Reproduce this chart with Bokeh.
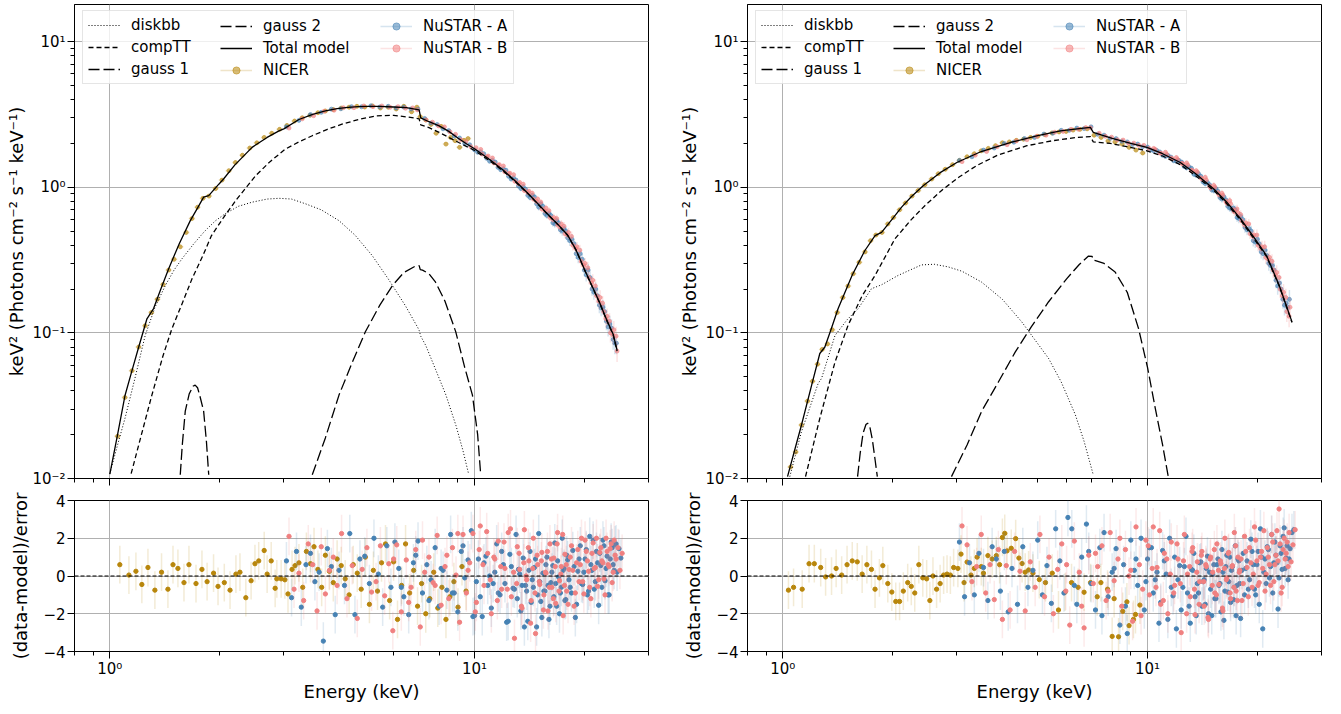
from bokeh.plotting import figure
from bokeh.layouts import row, column
from bokeh.models import FixedTicker, Span, Legend, LegendItem
from bokeh.embed import file_html
from bokeh.resources import INLINE

FONT = "DejaVu Sans"
NICER_COLOR = "#b8860b"
NUA_COLOR = "#4682b4"
NUB_COLOR = "#f08080"
GRID_COLOR = "#b0b0b0"

# ---- axes ticks
XMAJOR = [1, 10]
XMINOR = [0.8, 0.9, 2, 3, 4, 5, 6, 7, 8, 9, 20, 30]
XLABELS = {1: "10⁰", 10: "10¹"}
XBLANK = {1: "", 10: ""}
YMAJOR = [0.01, 0.1, 1, 10]
YMINOR = [0.02, 0.03, 0.04, 0.05, 0.06, 0.07, 0.08, 0.09,
          0.2, 0.3, 0.4, 0.5, 0.6, 0.7, 0.8, 0.9, 2, 3, 4, 5, 6, 7, 8, 9]
YLABELS = {0.01: "10⁻²", 0.1: "10⁻¹", 1: "10⁰", 10: "10¹"}
RMAJOR = [-4, -2, 0, 2, 4]
RLABELS = {-4: "−4", -2: "−2", 0: "0", 2: "2", 4: "4"}

# ---- left observation, model components (keV, keV^2 flux)
L_TOTAL_E = [1.0, 1.05, 1.1, 1.15, 1.2, 1.264, 1.318, 1.38, 1.449, 1.55, 1.662, 1.75, 1.808, 1.867, 1.99, 2.05, 2.2, 2.455,
             2.7, 2.91, 3.0, 3.3, 3.6, 3.9, 4.2, 4.5, 4.8, 5.1, 5.5, 6.0, 6.5, 7.05, 7.12, 7.5, 8.0, 8.5, 9.0, 9.5, 10.0,
             11.0, 12.0, 13.0, 14.0, 15.0, 16.0, 17.0, 18.0, 19.0, 20.0, 21.0, 22.0, 23.0, 24.0, 24.6]
L_TOTAL_F = [0.0107, 0.020, 0.037, 0.055, 0.080, 0.125, 0.147, 0.20, 0.275, 0.41, 0.59, 0.74, 0.855, 0.876, 1.05, 1.14, 1.42,
             1.88, 2.2, 2.44, 2.52, 2.92, 3.17, 3.35, 3.47, 3.54, 3.58, 3.60, 3.59, 3.56, 3.52, 3.40, 3.0, 2.82, 2.64, 2.42,
             2.18, 1.99, 1.84, 1.55, 1.31, 1.09, 0.91, 0.76, 0.64, 0.55, 0.47, 0.37, 0.275, 0.21, 0.163, 0.124, 0.098, 0.076]
L_COMPTT_E = [1.144, 1.2, 1.304, 1.4, 1.48, 1.58, 1.68, 1.8, 1.9, 2.05, 2.23, 2.51, 2.75, 3.03, 3.3, 3.59, 3.95, 4.33, 4.8,
              5.35, 6.0, 6.6, 7.05, 7.12, 7.5, 8.0, 9.05, 10.0, 11.0, 12.0, 13.0, 14.0, 15.0, 16.0, 17.0, 18.0, 19.0, 20.0,
              21.0, 22.0, 23.0, 24.0, 24.6]
L_COMPTT_F = [0.0108, 0.017, 0.0374, 0.07, 0.107, 0.16, 0.235, 0.34, 0.466, 0.62, 0.83, 1.2, 1.5, 1.83, 2.05, 2.26, 2.5,
              2.71, 2.92, 3.09, 3.12, 3.03, 2.95, 2.68, 2.57, 2.38, 2.03, 1.79, 1.52, 1.29, 1.08, 0.905, 0.755, 0.637,
              0.548, 0.468, 0.369, 0.273, 0.209, 0.162, 0.123, 0.097, 0.075]
L_DISKBB_E = [1.0, 1.05, 1.1, 1.17, 1.25, 1.33, 1.42, 1.5, 1.577, 1.7, 1.808, 1.85, 1.95, 2.07, 2.25, 2.455, 2.7, 2.91,
              3.15, 3.44, 3.8, 4.25, 4.7, 5.24, 5.8, 6.46, 7.0, 7.05, 7.12, 7.35, 7.8, 8.35, 8.9, 9.3, 9.63]
L_DISKBB_F = [0.0108, 0.017, 0.0258, 0.048, 0.096, 0.15, 0.212, 0.27, 0.323, 0.41, 0.49, 0.52, 0.59, 0.657, 0.74, 0.79,
              0.83, 0.84, 0.83, 0.77, 0.70, 0.59, 0.47, 0.34, 0.235, 0.154, 0.108, 0.104, 0.095, 0.082, 0.057, 0.0374,
              0.023, 0.0155, 0.0108]
L_GAUSS1_E = [1.56, 1.58, 1.61, 1.65, 1.69, 1.714, 1.74, 1.77, 1.808, 1.84, 1.867]
L_GAUSS1_F = [0.0106, 0.017, 0.029, 0.038, 0.043, 0.0438, 0.042, 0.036, 0.029, 0.018, 0.0106]
L_GAUSS2_E = [3.59, 3.9, 4.25, 4.6, 5.02, 5.5, 5.96, 6.4, 6.88, 7.05, 7.1, 7.2, 7.5, 7.82, 8.3, 8.88, 9.4, 9.87, 10.2, 10.4]
L_GAUSS2_F = [0.0106, 0.019, 0.0374, 0.061, 0.1018, 0.155, 0.212, 0.26, 0.287, 0.29, 0.272, 0.27, 0.255, 0.223, 0.165,
              0.102, 0.058, 0.0374, 0.02, 0.0106]

# ---- right observation, model components
R_TOTAL_E = [1.03, 1.08, 1.125, 1.2, 1.263, 1.304, 1.36, 1.418, 1.55, 1.679, 1.79, 1.865, 2.0, 2.117, 2.25, 2.43, 2.7, 3.0,
             3.5, 4.2, 5.0, 5.77, 6.5, 6.97, 7.1, 7.5, 8.0, 9.0, 9.96, 11.0, 12.3, 13.5, 15.2, 16.5, 18.0, 19.5, 21.2,
             23.0, 24.9]
R_TOTAL_F = [0.0103, 0.016, 0.0233, 0.044, 0.0722, 0.080, 0.108, 0.147, 0.25, 0.368, 0.466, 0.49, 0.61, 0.73, 0.86, 1.03,
             1.26, 1.48, 1.76, 2.03, 2.26, 2.44, 2.53, 2.58, 2.38, 2.28, 2.17, 2.0, 1.88, 1.7, 1.48, 1.25, 0.974, 0.79,
             0.607, 0.46, 0.34, 0.21, 0.119]
R_COMPTT_E = [1.154, 1.263, 1.39, 1.51, 1.65, 1.79, 2.03, 2.25, 2.455, 2.75, 3.05, 3.4, 3.9, 4.67, 5.5, 6.4, 6.97, 7.1,
              7.9, 8.8, 9.96, 11.0, 12.3, 13.5, 15.2, 16.5, 18.0, 19.5, 21.2, 23.0, 24.9]
R_COMPTT_F = [0.0103, 0.0259, 0.063, 0.113, 0.18, 0.248, 0.443, 0.6, 0.75, 0.97, 1.18, 1.41, 1.67, 1.93, 2.09, 2.2, 2.23,
              2.05, 2.0, 1.9, 1.78, 1.64, 1.43, 1.21, 0.95, 0.77, 0.595, 0.45, 0.335, 0.208, 0.118]
R_DISKBB_E = [1.045, 1.125, 1.25, 1.277, 1.39, 1.5, 1.61, 1.75, 1.865, 2.07, 2.4, 2.6, 2.84, 3.1, 3.51, 4.0, 4.52, 5.35,
              5.8, 6.34, 6.7, 7.1]
R_DISKBB_F = [0.0103, 0.021, 0.045, 0.0487, 0.096, 0.123, 0.147, 0.201, 0.214, 0.248, 0.293, 0.296, 0.284, 0.265, 0.223,
              0.17, 0.119, 0.067, 0.046, 0.0274, 0.018, 0.0106]
R_GAUSS1_E = [1.603, 1.63, 1.66, 1.69, 1.708, 1.73, 1.76, 1.79, 1.816]
R_GAUSS1_F = [0.0103, 0.015, 0.0205, 0.0235, 0.024, 0.023, 0.0185, 0.0135, 0.0103]
R_GAUSS2_E = [2.9, 3.2, 3.51, 3.9, 4.34, 4.8, 5.35, 6.0, 6.5, 6.89, 7.05, 7.1, 7.2, 7.6, 8.15, 8.8, 9.45, 10.0, 10.5, 11.0,
              11.4]
R_GAUSS2_F = [0.0103, 0.017, 0.029, 0.046, 0.074, 0.11, 0.163, 0.235, 0.295, 0.337, 0.335, 0.316, 0.314, 0.3, 0.262, 0.19,
              0.107, 0.058, 0.0304, 0.017, 0.0103]

# ---- unfolded spectra (data points)
L_NICER_E = [1.05, 1.10, 1.15, 1.20, 1.25, 1.30, 1.35, 1.40, 1.45, 1.50, 1.56, 1.62, 1.68, 1.74, 1.80, 1.87, 1.95, 2.03,
             2.12, 2.21, 2.31, 2.42, 2.53, 2.65, 2.78, 2.92, 3.06, 3.21, 3.37, 3.54, 3.72, 3.90, 4.10, 4.31, 4.53, 4.76,
             5.00, 5.25, 5.52, 5.80, 6.10, 6.40, 6.72, 6.95, 7.10, 7.35, 7.60, 7.85, 8.10, 8.35, 8.60, 8.85, 9.10, 9.35, 9.60]
L_NICER_F = [0.0195, 0.036, 0.055, 0.08, 0.112, 0.138, 0.17, 0.215, 0.27, 0.32, 0.39, 0.49, 0.61, 0.73, 0.84, 0.87, 0.98,
             1.12, 1.30, 1.48, 1.66, 1.86, 2.02, 2.20, 2.35, 2.50, 2.66, 2.85, 3.00, 3.12, 3.25, 3.34, 3.42, 3.50, 3.55,
             3.60, 3.56, 3.62, 3.50, 3.55, 3.45, 3.60, 3.30, 3.55, 3.05, 2.90, 2.70, 2.35, 2.62, 1.98, 2.20, 2.09, 1.88,
             2.10, 2.16]
R_NICER_E = [1.05, 1.085, 1.125, 1.169, 1.206, 1.245, 1.282, 1.326, 1.366, 1.41, 1.46, 1.51, 1.56, 1.62, 1.68, 1.74, 1.80,
             1.87, 1.94, 2.01, 2.09, 2.17, 2.26, 2.35, 2.45, 2.56, 2.67, 2.79, 2.92, 3.05, 3.2, 3.35, 3.5, 3.66, 3.83, 4.0,
             4.18, 4.37, 4.57, 4.78, 5.0, 5.23, 5.47, 5.72, 5.98, 6.25, 6.53, 6.83, 7.14, 7.46, 7.8, 8.15, 8.52, 8.9, 9.3, 9.7]
R_NICER_F = [0.012, 0.0152, 0.0233, 0.034, 0.0465, 0.061, 0.077, 0.084, 0.105, 0.138, 0.175, 0.21, 0.255, 0.305, 0.36,
             0.43, 0.47, 0.49, 0.56, 0.62, 0.70, 0.78, 0.87, 0.95, 1.04, 1.14, 1.24, 1.33, 1.43, 1.53, 1.62, 1.70, 1.78,
             1.85, 1.93, 2.02, 2.05, 2.10, 2.14, 2.20, 2.24, 2.30, 2.36, 2.40, 2.42, 2.47, 2.50, 2.52, 2.28, 2.20, 2.08,
             2.05, 1.98, 1.88, 1.80, 1.72]
NUA_SPEC_E = [3.05, 3.3, 3.55, 3.8, 4.05, 4.3, 4.6, 4.9, 5.2, 5.5, 5.8, 6.1, 6.4, 6.7, 7.0, 7.3, 7.6, 7.9, 8.2, 8.5, 8.8,
              9.1, 9.4, 9.7, 10.0, 10.4, 10.8, 11.2, 11.6, 12.0, 12.4, 12.8, 13.2, 13.6, 14.0, 14.4, 14.8, 15.2, 15.6, 16.0,
              16.4, 16.8, 17.2, 17.6, 18.0, 18.5, 19.0, 19.5, 20.0, 20.5, 21.0, 21.5, 22.0, 22.5, 23.0, 23.5, 24.0, 24.5]
NUB_SPEC_E = [3.1, 3.37, 3.62, 3.87, 4.12, 4.37, 4.67, 4.97, 5.27, 5.57, 5.87, 6.17, 6.47, 6.77, 6.97, 7.37, 7.67, 7.97,
              8.27, 8.57, 8.87, 9.17, 9.47, 9.77, 10.1, 10.5, 10.9, 11.3, 11.7, 12.1, 12.5, 12.9, 13.3, 13.7, 14.1, 14.5,
              14.9, 15.3, 15.7, 16.1, 16.5, 16.9, 17.3, 17.7, 18.1, 18.6, 19.1, 19.6, 20.1, 20.6, 21.1, 21.6, 22.1, 22.6,
              23.1, 23.6, 24.1, 24.6]
NUA_SPEC_E2 = [10.2, 10.6, 11.0, 11.4, 11.8, 12.2, 12.6, 13.0, 13.4, 13.8, 14.2, 14.6, 15.0, 15.4, 15.8, 16.2, 16.6, 17.0,
               17.4, 17.8, 18.25, 18.75, 19.25, 19.75, 20.25, 20.75, 21.25, 21.75, 22.25, 22.75, 23.25, 23.75, 24.25]
NUB_SPEC_E2 = [10.4, 10.8, 11.2, 11.6, 12.0, 12.4, 12.8, 13.2, 13.6, 14.0, 14.4, 14.8, 15.2, 15.6, 16.0, 16.4, 16.8, 17.2,
               17.6, 18.0, 18.45, 18.95, 19.45, 19.95, 20.45, 20.95, 21.45, 21.95, 22.45, 22.95, 23.45, 23.95, 24.45]
# fractional flux errors of the NuSTAR spectral bins
NU_SPEC_YERR = [0.02, 0.02, 0.02, 0.02, 0.02, 0.02, 0.02, 0.02, 0.02, 0.02, 0.02, 0.02, 0.02, 0.02, 0.02, 0.025, 0.025,
                0.025, 0.025, 0.025, 0.025, 0.025, 0.025, 0.025, 0.03, 0.03, 0.03, 0.03, 0.035, 0.035, 0.035, 0.04, 0.04,
                0.04, 0.045, 0.045, 0.05, 0.05, 0.055, 0.055, 0.06, 0.06, 0.065, 0.07, 0.07, 0.08, 0.08, 0.09, 0.09, 0.1,
                0.1, 0.11, 0.12, 0.12, 0.13, 0.14, 0.15, 0.16]
NU_SPEC_YERR2 = [0.03, 0.03, 0.03, 0.035, 0.035, 0.035, 0.04, 0.04, 0.04, 0.045, 0.045, 0.05, 0.05, 0.055, 0.055, 0.06,
                 0.06, 0.065, 0.07, 0.07, 0.08, 0.08, 0.09, 0.09, 0.1, 0.1, 0.11, 0.12, 0.12, 0.13, 0.14, 0.15, 0.16]
L_NUA_F = [2.60, 2.88, 3.16, 3.27, 3.44, 3.46, 3.58, 3.57, 3.63, 3.56, 3.60, 3.51, 3.55, 3.45, 3.44, 2.97, 2.76, 2.70, 2.52,
           2.45, 2.25, 2.18, 2.00, 1.96, 1.81, 1.75, 1.58, 1.53, 1.37, 1.34, 1.19, 1.16, 1.02, 1.01, 0.88, 0.88, 0.77, 0.77,
           0.66, 0.66, 0.57, 0.59, 0.51, 0.52, 0.45, 0.44, 0.35, 0.35, 0.27, 0.27, 0.20, 0.20, 0.155, 0.15, 0.12, 0.115,
           0.09, 0.085]
L_NUB_F = [2.55, 2.95, 3.10, 3.33, 3.38, 3.52, 3.52, 3.62, 3.58, 3.62, 3.54, 3.58, 3.49, 3.51, 3.40, 2.90, 2.80, 2.64, 2.60,
           2.40, 2.31, 2.12, 2.06, 1.90, 1.87, 1.69, 1.64, 1.47, 1.43, 1.28, 1.25, 1.10, 1.08, 0.95, 0.94, 0.83, 0.83, 0.71,
           0.72, 0.62, 0.62, 0.55, 0.56, 0.48, 0.49, 0.40, 0.39, 0.31, 0.30, 0.24, 0.23, 0.18, 0.175, 0.14, 0.13, 0.10,
           0.105, 0.075]
L_NUA_F2 = [1.74, 1.70, 1.51, 1.49, 1.32, 1.31, 1.14, 1.12, 0.98, 0.97, 0.85, 0.86, 0.73, 0.74, 0.64, 0.64, 0.56, 0.57,
            0.50, 0.50, 0.43, 0.41, 0.33, 0.32, 0.25, 0.24, 0.19, 0.18, 0.148, 0.14, 0.11, 0.108, 0.085]
L_NUB_F2 = [1.82, 1.62, 1.59, 1.42, 1.40, 1.24, 1.22, 1.06, 1.05, 0.92, 0.91, 0.80, 0.79, 0.69, 0.69, 0.60, 0.61, 0.53,
            0.54, 0.47, 0.46, 0.38, 0.37, 0.29, 0.28, 0.22, 0.21, 0.165, 0.16, 0.125, 0.12, 0.097, 0.095]
R_NUA_F = [1.53, 1.62, 1.80, 1.86, 2.00, 2.04, 2.16, 2.20, 2.32, 2.35, 2.46, 2.46, 2.55, 2.53, 2.60, 2.31, 2.28, 2.17, 2.16,
           2.07, 2.05, 1.97, 1.98, 1.90, 1.89, 1.78, 1.75, 1.63, 1.61, 1.51, 1.49, 1.36, 1.35, 1.21, 1.19, 1.06, 1.04, 0.95,
           0.94, 0.83, 0.82, 0.72, 0.72, 0.62, 0.63, 0.53, 0.52, 0.43, 0.44, 0.36, 0.37, 0.30, 0.29, 0.23, 0.22, 0.17, 0.16,
           0.17]
R_NUB_F = [1.50, 1.66, 1.76, 1.90, 1.96, 2.08, 2.12, 2.24, 2.28, 2.39, 2.42, 2.50, 2.50, 2.57, 2.56, 2.35, 2.24, 2.21, 2.12,
           2.11, 2.01, 2.01, 1.94, 1.94, 1.85, 1.82, 1.71, 1.68, 1.57, 1.55, 1.45, 1.42, 1.30, 1.27, 1.14, 1.12, 0.99, 1.00,
           0.89, 0.88, 0.78, 0.77, 0.68, 0.67, 0.59, 0.57, 0.48, 0.47, 0.40, 0.39, 0.33, 0.33, 0.27, 0.26, 0.20, 0.19, 0.14,
           0.15]
R_NUA_F2 = [1.80, 1.79, 1.66, 1.65, 1.52, 1.53, 1.39, 1.38, 1.23, 1.24, 1.09, 1.08, 0.96, 0.98, 0.85, 0.86, 0.74, 0.71,
            0.70, 0.61, 0.60, 0.51, 0.50, 0.42, 0.41, 0.35, 0.34, 0.29, 0.27, 0.21, 0.20, 0.155, 0.15]
R_NUB_F2 = [1.85, 1.72, 1.74, 1.59, 1.60, 1.46, 1.47, 1.31, 1.30, 1.16, 1.17, 1.02, 1.03, 0.92, 0.91, 0.80, 0.81, 0.70,
            0.71, 0.65, 0.55, 0.56, 0.46, 0.47, 0.38, 0.39, 0.32, 0.31, 0.25, 0.24, 0.18, 0.175, 0.13]

# ---- residuals, (data-model)/error
L_NICER_RE = [1.065, 1.128, 1.179, 1.224, 1.272, 1.329, 1.386, 1.443, 1.49, 1.537, 1.597, 1.648, 1.723, 1.789, 1.848,
              1.925, 1.98, 2.06, 2.136, 2.217, 2.274, 2.36, 2.44, 2.5, 2.56, 2.65, 2.70, 2.77, 2.84, 2.87, 2.95, 3.02, 3.08,
              3.16, 3.22, 3.30, 3.38, 3.46, 3.55, 3.63, 3.72, 3.81, 3.90, 4.00, 4.10, 4.20, 4.31, 4.42, 4.53, 4.65, 4.77,
              4.89, 5.02, 5.15, 5.28, 5.42, 5.56, 5.70, 5.85, 6.00, 6.15, 6.31, 6.47, 6.64, 6.81, 6.98, 7.16, 7.35, 7.54,
              7.73, 7.93, 8.14, 8.35, 8.56, 8.78, 9.01, 9.24, 9.48]
L_NICER_R = [0.6, 0.05, 0.25, -0.45, 0.45, -0.75, 0.2, -0.7, 0.6, 0.4, -0.35, 0.6, -0.4, 0.35, -0.3, 0.15, -0.55, -0.35,
             -0.75, 0.1, 0.2, -1.15, -0.25, 0.65, 0.8, 1.35, 0.1, 0.8, -0.65, -0.15, -0.15, -0.2, -0.95, 0.35, 0.55, 0.7,
             -0.6, 1.3, 0.65, 1.55, 0.35, -0.6, 1.1, 0.25, -0.35, 0.9, 0.55, -0.15, -1.0, 0.6, 0.15, -0.7, 1.0, -1.5, 0.3,
             -0.8, 0.7, 1.7, -1.3, 0.75, -2.3, -0.5, 1.7, -0.9, 0.3, -1.6, -0.4, -2.0, -1.2, 0.2, -1.7, -0.6, -2.3, -1.1,
             -0.3, -1.65, 0.5, -0.8]
R_NICER_RE = [1.036, 1.07, 1.13, 1.18, 1.22, 1.27, 1.31, 1.36, 1.40, 1.45, 1.50, 1.55, 1.60, 1.65, 1.70, 1.75, 1.79, 1.84,
              1.88, 1.94, 1.99, 2.04, 2.09, 2.14, 2.20, 2.25, 2.30, 2.36, 2.42, 2.48, 2.53, 2.58, 2.64, 2.70, 2.76, 2.82,
              2.88, 2.94, 3.02, 3.08, 3.14, 3.20, 3.28, 3.35, 3.41, 3.50, 3.55, 3.65, 3.75, 3.85, 3.93, 4.0, 4.06, 4.12,
              4.23, 4.35, 4.44, 4.53, 4.62, 4.72, 4.85, 5.05, 5.25, 5.48, 5.7, 5.94, 6.19, 6.45, 6.7, 6.98, 7.28, 7.45,
              7.77, 8.0, 8.1, 8.33, 8.55, 8.78, 8.9, 9.15, 9.27, 9.53]
R_NICER_R = [-0.75, -0.6, -0.7, 0.65, 0.65, 0.45, -0.05, 0.0, 0.4, 0.05, 0.6, 0.8, 0.75, 0.1, 0.6, 0.35, -0.7, -0.1, 0.55,
             -0.4, -0.85, -1.35, -1.35, -0.8, -0.35, -0.55, -0.9, 0.6, -0.1, -0.15, -1.3, 0.0, -0.7, -0.4, 0.05, 0.1, 0.05,
             0.45, 0.4, 1.16, -0.35, 0.74, 0.05, 0.4, 1.0, 0.5, 0.15, 1.08, 0.9, 1.08, 0.6, 2.04, 2.26, 1.33, 1.47, 1.98,
             0.95, 0.66, 0.2, 0.32, 0.15, -0.19, -0.35, 0.15, -1.8, -0.86, -0.35, -0.6, -0.86, -0.35, -1.1, -0.35, -0.7,
             -3.2, -1.2, -3.22, -1.87, -1.37, -2.63, -2.3, -2.04, -1.54]
NUA_RES_E = [3.05, 3.15, 3.25, 3.35, 3.45, 3.55, 3.65, 3.75, 3.85, 3.95, 4.05, 4.15, 4.25, 4.4, 4.55, 4.7, 4.85, 5.0, 5.15,
             5.3, 5.45, 5.6, 5.75, 5.9, 6.05, 6.2, 6.4, 6.6, 6.8, 7.0, 7.2, 7.4, 7.6, 7.8, 8.0, 8.2, 8.4, 8.6, 8.8, 9.0, 9.2,
             9.4, 9.6, 9.8, 10.0, 10.25, 10.5, 10.75, 11.0, 11.25, 11.5, 11.75, 12.0, 12.25, 12.5, 12.75, 13.0, 13.2, 13.4,
             13.6, 13.8, 14.0, 14.2, 14.4, 14.6, 14.8, 15.0, 15.2, 15.4, 15.6, 15.8, 16.0, 16.2, 16.4, 16.6, 16.8, 17.0,
             17.2, 17.4, 17.6, 17.8, 18.0, 18.3, 18.6, 18.9, 19.2, 19.5, 19.8, 20.1, 20.4, 20.7, 21.0, 21.3, 21.6, 21.9,
             22.2, 22.5, 22.8, 23.1, 23.4, 23.7, 24.0, 24.3, 24.6, 24.9, 25.2]
NUB_RES_E = [3.1, 3.2, 3.3, 3.4, 3.5, 3.6, 3.7, 3.8, 3.9, 4.0, 4.1, 4.2, 4.32, 4.47, 4.62, 4.77, 4.92, 5.07, 5.22, 5.37,
             5.52, 5.67, 5.82, 5.97, 6.12, 6.3, 6.5, 6.7, 6.9, 7.1, 7.3, 7.5, 7.7, 7.9, 8.1, 8.3, 8.5, 8.7, 8.9, 9.1, 9.3,
             9.5, 9.7, 9.9, 10.12, 10.37, 10.62, 10.87, 11.12, 11.37, 11.62, 11.87, 12.12, 12.37, 12.62, 12.87, 13.1, 13.3,
             13.5, 13.7, 13.9, 14.1, 14.3, 14.5, 14.7, 14.9, 15.1, 15.3, 15.5, 15.7, 15.9, 16.1, 16.3, 16.5, 16.7, 16.9,
             17.1, 17.3, 17.5, 17.7, 17.9, 18.15, 18.45, 18.75, 19.05, 19.35, 19.65, 19.95, 20.25, 20.55, 20.85, 21.15,
             21.45, 21.75, 22.05, 22.35, 22.65, 22.95, 23.25, 23.55, 23.85, 24.15, 24.45, 24.75, 25.05, 25.4]
NUA_RES_E2 = [6.3, 6.9, 7.5, 8.1, 8.7, 9.3, 9.9, 10.12, 10.37, 10.62, 10.87, 11.12, 11.37, 11.62, 11.87, 12.12, 12.37,
              12.62, 12.87, 13.1, 13.3, 13.5, 13.7, 13.9, 14.1, 14.3, 14.5, 14.7, 14.9, 15.1, 15.3, 15.5, 15.7, 15.9, 16.1,
              16.3, 16.5, 16.7, 16.9, 17.1, 17.3, 17.5, 17.7, 17.9, 18.15, 18.45, 18.75, 19.05, 19.35, 19.65, 19.95, 20.25,
              20.55, 20.85, 21.15, 21.45, 21.75, 22.05, 22.35, 22.65, 22.95, 23.25, 23.55, 23.85, 24.15, 24.45]
NUB_RES_E2 = [6.0, 6.6, 7.2, 7.8, 8.4, 9.0, 9.6, 10.05, 10.3, 10.55, 10.8, 11.05, 11.3, 11.55, 11.8, 12.05, 12.3, 12.55,
              12.8, 13.05, 13.25, 13.45, 13.65, 13.85, 14.05, 14.25, 14.45, 14.65, 14.85, 15.05, 15.25, 15.45, 15.65,
              15.85, 16.05, 16.25, 16.45, 16.65, 16.85, 17.05, 17.25, 17.45, 17.65, 17.85, 18.05, 18.3, 18.6, 18.9, 19.2,
              19.5, 19.8, 20.1, 20.4, 20.7, 21.0, 21.3, 21.6, 21.9, 22.2, 22.5, 22.8, 23.1, 23.4, 23.7, 24.0, 24.3]
L_NUA_R = [0.8, -1.15, 1.3, -1.65, 0.6, 1.2, -0.3, 0.2, -3.45, 1.45, 0.5, -2.05, 0.3, -0.5, 2.25, -2.05, 0.9, 1.05, -0.4,
           2.0, 0.1, -1.65, 1.6, -0.6, 1.8, 0.4, -1.1, -2.05, 0.7, 1.85, -0.9, 0.6, -0.2, 1.5, -1.6, 0.3, -0.75, 2.2, -0.9,
           -1.9, 1.3, -0.1, 0.85, 2.4, -2.1, 0.9, -2.15, 1.05, 0.0, -0.4, 1.7, -1.0, 0.6, -2.45, 1.15, -0.65, 2.2, 0.35,
           -1.85, 0.95, -0.5, -2.4, 1.3, -0.2, 0.45, -2.7, 2.25, -1.35, 0.15, -0.8, 1.0, -2.3, -0.35, 0.55, 1.75, -1.6,
           -0.05, -0.9, 2.0, 0.4, -1.25, 0.85, -0.6, 1.35, -2.2, 0.25, 1.6, -0.45, 0.9, -1.0, 2.1, 0.3, -0.7, 1.3, -1.55,
           0.55, 1.9, -0.25, 1.05, -1.0, 1.8, 0.6, 1.65, 0.2, 1.45, 0.95]
L_NUA_R2 = [-0.6, 1.1, -1.3, 0.4, -0.9, 1.6, -2.15, -0.3, -1.1, 0.7, -0.5, -1.7, 0.2, -0.9, 1.3, -0.4, -2.4, 0.5, -0.7,
            -1.2, 0.1, -0.5, -2.7, -0.8, 0.3, -1.4, -0.6, 0.9, -1.0, -0.3, -2.2, -0.8, 0.6, -0.5, -1.6, 0.2, -1.1, -0.4,
            0.8, -2.0, -0.6, 0.3, -1.3, 1.1, -0.2, -0.9, 0.5, -1.5, 0.9, -0.4, 0.2, 1.4, -0.8, 0.6, 1.9, -0.3, 0.7, 1.2,
            -0.6, 1.6, 0.4, -1.0, 0.9, 1.5, 0.3, 1.7]
L_NUB_R = [2.1, -0.7, 0.15, -1.3, 1.7, 0.6, -1.85, 1.55, -0.95, 0.3, 1.0, -0.5, 2.25, -1.2, 0.55, -2.25, 0.35, 1.5, -0.85,
           -0.3, 1.6, -1.05, 0.65, -2.9, 1.65, -1.9, 0.85, -0.6, 1.4, -2.7, 0.2, 1.0, -0.35, 2.15, -1.55, 0.5, -1.2, 1.5,
           0.05, -2.45, 2.2, -0.9, 0.7, 2.25, -1.4, 2.65, -0.5, 1.2, -2.0, 0.9, 1.85, -0.7, 0.4, 2.3, -1.1, -3.3, 1.55,
           0.35, -1.7, 2.45, -0.2, 0.8, -1.3, 2.0, -3.05, 0.6, -0.45, 1.25, -1.0, 0.15, -1.85, 1.7, -0.6, 0.95, -1.45, 2.3,
           -0.25, 0.5, -2.1, 1.15, -0.8, 0.35, 1.6, -1.6, 0.7, -0.3, 2.0, -0.95, 1.3, 0.25, -1.2, 1.75, 0.45, -0.55, 1.25,
           0.8, -0.15, 2.0, 0.6, 1.45, -0.35, 1.9, 0.9, 1.5, 0.3, 1.2, 0.55]
L_NUB_R2 = [0.9, -1.4, 1.9, -0.5, 1.1, 2.25, 0.3, -1.9, 1.4, 0.6, 2.35, -0.2, 1.0, -1.3, 0.5, 1.8, -0.7, 2.5, 0.2, -0.4,
            1.2, -1.6, 0.7, 0.0, 1.5, -2.5, 0.4, -0.9, 1.1, -0.3, 0.8, -1.8, 0.2, 1.3, -0.6, 0.9, -1.2, 0.5, 1.7, -0.8, 0.1,
            2.2, -0.5, 0.6, -1.5, 1.0, 0.3, -0.9, 1.4, 0.6, -0.3, 1.9, 0.8, -0.6, 1.2, 0.4, 2.0, -0.2, 1.5, 0.7, -1.0, 1.3,
            0.5, 1.7, 0.2, 1.1]
R_NUA_R = [1.8, -1.1, 0.7, -1.0, 1.2, 0.45, -1.3, 1.55, 0.9, -0.8, 1.3, -1.9, 0.4, -1.5, 1.55, -0.6, 0.3, 1.9, -1.0, 0.55,
           -1.45, 2.5, 0.8, -0.9, 3.1, 2.5, -1.5, 1.0, 2.75, -0.4, -1.8, 1.5, 2.3, -1.1, 0.2, 1.45, -2.6, 0.6, -3.05, 1.9,
           0.3, -0.5, 2.0, -1.8, 0.9, 1.5, -0.2, -2.5, 1.35, 0.1, 2.0, -1.05, -2.8, 0.55, -0.6, 2.1, -1.6, 0.35, 1.2, -2.1,
           -0.9, 0.75, -0.3, -1.5, 1.05, 0.2, -2.1, 0.6, -1.2, 0.9, -0.4, 1.4, -2.35, 0.5, -0.85, 1.0, 0.3, -1.25, 1.6,
           -0.5, 0.8, -2.25, 1.2, 0.4, -0.7, 1.95, 0.6, -1.0, 1.3, 2.5, -2.8, 0.9, 1.55, -0.1, 2.2, 0.7, 1.1, -1.75, 1.6,
           0.35, 2.55, 0.95, -0.2, 1.45, 2.3, 2.45]
R_NUA_R2 = [-0.5, 1.3, -2.1, 0.4, -1.6, 0.9, -0.3, 1.5, -0.9, 0.2, -1.4, 0.8, -2.3, -0.6, 1.0, -0.2, -1.8, 0.5, -0.9, -2.5,
            0.3, -1.1, -0.4, 0.7, -1.6, -0.2, 0.4, -2.0, -0.7, 0.1, -1.2, 0.6, -0.5, -1.9, 0.2, -0.8, 1.1, -0.3, -1.4, 0.5,
            -0.6, -2.1, 0.9, -0.4, 0.3, -1.0, 0.8, -0.2, 1.3, -0.7, 0.6, -1.5, 1.0, 0.2, -0.4, 1.4, 0.5, -0.9, 1.8, 0.7,
            -0.1, 1.2, 2.1, 0.4, 1.6, 0.9]
R_NUB_R = [2.65, 1.65, -0.3, 0.5, 2.2, -0.9, 0.6, -1.25, 1.4, -2.3, 0.55, -1.8, 1.3, 0.25, -1.85, 0.75, -0.6, 2.2, -1.1,
           1.0, -2.0, 0.35, 1.7, -0.8, -2.6, 1.85, 0.2, -2.75, 1.1, -0.4, 0.5, 1.6, -1.3, 2.3, -0.25, 0.9, -1.6, 1.4, 0.0,
           -2.4, 2.6, 0.6, -0.7, 1.9, -1.0, 2.6, 0.45, -1.5, 1.2, -2.0, 1.8, -0.5, 0.9, -3.0, 2.2, 0.1, -1.1, 1.5, -2.05,
           0.75, -0.3, 1.3, -1.6, 0.5, -2.3, 1.0, 0.2, -0.9, 1.7, -0.45, 0.65, -1.85, 2.0, -0.1, 1.25, -1.2, 0.55, 2.3,
           -0.8, 1.0, 0.3, -1.3, 2.1, 0.45, 1.5, -0.6, 2.6, 0.8, -0.35, 1.3, 2.4, 0.1, 1.0, -0.5, 1.8, 0.6, 2.4, 3.55, -0.9,
           1.4, 0.9, 1.8, 2.3, 0.75, 1.65, 2.45]
R_NUB_R2 = [0.6, -1.6, 1.2, -0.8, 2.0, 0.3, -2.1, 1.6, 0.4, -0.6, 2.4, -1.3, 0.9, 0.1, -0.9, 1.7, -0.4, 0.8, -2.0, 0.5, 1.3,
            -0.7, 0.2, -1.5, 1.1, -0.3, 0.6, -2.2, 0.9, -0.5, 1.4, -1.0, 0.3, 0.8, -1.7, 0.4, -0.2, 1.2, -0.9, 0.5, -0.6,
            1.6, -1.3, 0.2, 0.9, -0.4, 1.3, -1.1, 0.7, 0.1, 1.9, -0.5, 1.0, 0.4, -0.8, 1.5, 0.6, 2.2, -0.3, 1.1, 0.8, 1.7,
            -0.6, 2.0, 1.2, 0.5]

# error bar sizes for the unfolded spectra (fractions)
NICER_XFRAC, NICER_YFRAC = 0.02, 0.035
NU_XFRAC = 0.012

FRAME_W = 574
TOP_FRAME_H = 474
BOT_FRAME_H = 157
LEG_PAD = 5


def style(p):
    p.background_fill_color = "white"
    p.border_fill_color = "white"
    p.outline_line_color = "black"
    p.outline_line_width = 1
    for ax in p.axis:
        ax.axis_line_color = "black"
        ax.major_tick_out = 7
        ax.major_tick_in = 0
        ax.minor_tick_out = 4
        ax.minor_tick_in = 0
        ax.major_tick_line_color = "black"
        ax.minor_tick_line_color = "black"
        ax.major_label_text_font = FONT
        ax.major_label_text_font_size = "15px"
        ax.major_label_text_color = "black"
        ax.major_label_standoff = 2
        ax.axis_label_text_font = FONT
        ax.axis_label_text_font_size = "18px"
        ax.axis_label_text_font_style = "normal"
        ax.axis_label_text_color = "black"
    p.grid.grid_line_color = GRID_COLOR
    p.grid.grid_line_width = 1


def pairs(*cols):
    n = min(len(c) for c in cols)
    return [list(c[:n]) for c in cols]


def spec_points(p, e, f, color, xfrac, yerr):
    e, f, ye = pairs(e, f, yerr)
    p.segment(e, [v * (1 - d) for v, d in zip(f, ye)], e, [v * (1 + d) for v, d in zip(f, ye)],
              line_color=color, line_alpha=0.22, line_width=1.5)
    eh = p.segment([x * (1 - xfrac) for x in e], f, [x * (1 + xfrac) for x in e], f,
                   line_color=color, line_alpha=0.22, line_width=1.5)
    sc = p.scatter(e, f, size=4, color=color, alpha=0.55)
    return [eh, sc]


def legend_block(p, items, x, top, box_w=None):
    n = len(items)
    h = 2 * LEG_PAD + n * 18 + (n - 1) * 4
    leg = Legend(items=items, location=(x, TOP_FRAME_H - top - h), orientation="vertical", margin=0,
                 padding=LEG_PAD, spacing=4, label_standoff=11, glyph_width=32, glyph_height=18, label_height=18,
                 label_text_font=FONT, label_text_font_size="15px", label_text_color="black")
    if box_w:
        leg.label_width = box_w - 2 * LEG_PAD - 32 - 11
        leg.background_fill_alpha = 0.8
        leg.border_line_color = "#cccccc"
        leg.border_line_width = 1
    else:
        leg.background_fill_alpha = 0
        leg.border_line_alpha = 0
    p.add_layout(leg)


def top_panel(m, nicer, nua, nub, bl, br):
    p = figure(width=bl + FRAME_W + br, height=4 + TOP_FRAME_H + 12, x_axis_type="log", y_axis_type="log",
               x_range=(0.8, 30), y_range=(0.01, 18), output_backend="svg", toolbar_location=None,
               min_border_left=bl, min_border_right=br, min_border_top=4, min_border_bottom=12)
    style(p)
    p.xaxis.ticker = FixedTicker(ticks=XMAJOR, minor_ticks=XMINOR)
    p.xaxis.major_label_overrides = XBLANK
    p.xaxis.major_label_text_font_size = "1px"
    p.xaxis.major_label_standoff = 0
    p.yaxis.ticker = FixedTicker(ticks=YMAJOR, minor_ticks=YMINOR)
    p.yaxis.major_label_overrides = YLABELS
    p.yaxis.axis_label = "keV² (Photons cm⁻² s⁻¹ keV⁻¹)"
    p.yaxis.axis_label_standoff = 2

    r_nicer = spec_points(p, nicer[0], nicer[1], NICER_COLOR, NICER_XFRAC, [NICER_YFRAC] * len(nicer[0]))
    r_nua = []
    for e, f, ye in nua:
        r_nua = spec_points(p, e, f, NUA_COLOR, NU_XFRAC, ye)
    r_nub = []
    for e, f, ye in nub:
        r_nub = spec_points(p, e, f, NUB_COLOR, NU_XFRAC, ye)

    r_disk = p.line(m["diskbb"][0], m["diskbb"][1], line_color="black", line_width=1, line_dash="1 2")
    r_comp = p.line(m["compTT"][0], m["compTT"][1], line_color="black", line_width=1.3, line_dash="5 3")
    r_g1 = p.line(m["gauss1"][0], m["gauss1"][1], line_color="black", line_width=1.3, line_dash="11 4")
    r_g2 = p.line(m["gauss2"][0], m["gauss2"][1], line_color="black", line_width=1.3, line_dash="11 4")
    r_tot = p.line(m["total"][0], m["total"][1], line_color="black", line_width=1.3)

    # three legend columns, the first one carries the common frame
    legend_block(p, [LegendItem(label="diskbb", renderers=[r_disk]),
                     LegendItem(label="compTT", renderers=[r_comp]),
                     LegendItem(label="gauss 1", renderers=[r_g1])], 8, 8, box_w=430)
    legend_block(p, [LegendItem(label="gauss 2", renderers=[r_g2]),
                     LegendItem(label="Total model", renderers=[r_tot]),
                     LegendItem(label="NICER", renderers=r_nicer)], 141, 8)
    legend_block(p, [LegendItem(label="NuSTAR - A", renderers=r_nua),
                     LegendItem(label="NuSTAR - B", renderers=r_nub)], 301, 8)
    return p


def resid_panel(nicer, nua, nub, bl, br):
    p = figure(width=bl + FRAME_W + br, height=10 + BOT_FRAME_H + 47, x_axis_type="log",
               x_range=(0.8, 30), y_range=(-4, 4), output_backend="svg", toolbar_location=None,
               min_border_left=bl, min_border_right=br, min_border_top=10, min_border_bottom=47)
    style(p)
    p.xaxis.ticker = FixedTicker(ticks=XMAJOR, minor_ticks=XMINOR)
    p.xaxis.major_label_overrides = XLABELS
    p.xaxis.axis_label = "Energy (keV)"
    p.xaxis.axis_label_standoff = 0
    p.xaxis.major_label_standoff = 1
    p.yaxis.ticker = FixedTicker(ticks=RMAJOR, minor_ticks=[])
    p.yaxis.major_label_overrides = RLABELS
    p.yaxis.axis_label = "(data-model)/error"
    p.yaxis.axis_label_standoff = 9
    for sets, color in ((nicer, NICER_COLOR), (nua, NUA_COLOR), (nub, NUB_COLOR)):
        for e, r in sets:
            e, r = pairs(e, r)
            p.segment(e, [v - 1 for v in r], e, [v + 1 for v in r], line_color=color, line_alpha=0.17, line_width=1.5)
            p.scatter(e, r, size=4.3, color=color)
    p.add_layout(Span(location=0, dimension="width", line_color="black", line_width=1.2, line_dash="4 2"))
    return p


left_models = {"total": (L_TOTAL_E, L_TOTAL_F), "compTT": (L_COMPTT_E, L_COMPTT_F),
               "diskbb": (L_DISKBB_E, L_DISKBB_F), "gauss1": (L_GAUSS1_E, L_GAUSS1_F),
               "gauss2": (L_GAUSS2_E, L_GAUSS2_F)}
right_models = {"total": (R_TOTAL_E, R_TOTAL_F), "compTT": (R_COMPTT_E, R_COMPTT_F),
                "diskbb": (R_DISKBB_E, R_DISKBB_F), "gauss1": (R_GAUSS1_E, R_GAUSS1_F),
                "gauss2": (R_GAUSS2_E, R_GAUSS2_F)}

top_l = top_panel(left_models, (L_NICER_E, L_NICER_F),
                  [(NUA_SPEC_E, L_NUA_F, NU_SPEC_YERR), (NUA_SPEC_E2, L_NUA_F2, NU_SPEC_YERR2)],
                  [(NUB_SPEC_E, L_NUB_F, NU_SPEC_YERR), (NUB_SPEC_E2, L_NUB_F2, NU_SPEC_YERR2)], 74, 24)
bot_l = resid_panel([(L_NICER_RE, L_NICER_R)],
                    [(NUA_RES_E, L_NUA_R), (NUA_RES_E2, L_NUA_R2)],
                    [(NUB_RES_E, L_NUB_R), (NUB_RES_E2, L_NUB_R2)], 74, 24)
top_r = top_panel(right_models, (R_NICER_E, R_NICER_F),
                  [(NUA_SPEC_E, R_NUA_F, NU_SPEC_YERR), (NUA_SPEC_E2, R_NUA_F2, NU_SPEC_YERR2)],
                  [(NUB_SPEC_E, R_NUB_F, NU_SPEC_YERR), (NUB_SPEC_E2, R_NUB_F2, NU_SPEC_YERR2)], 75, 2)
bot_r = resid_panel([(R_NICER_RE, R_NICER_R)],
                    [(NUA_RES_E, R_NUA_R), (NUA_RES_E2, R_NUA_R2)],
                    [(NUB_RES_E, R_NUB_R), (NUB_RES_E2, R_NUB_R2)], 75, 2)

layout = row(column(top_l, bot_l), column(top_r, bot_r))

open("out.html", "w").write(file_html(layout, INLINE))
